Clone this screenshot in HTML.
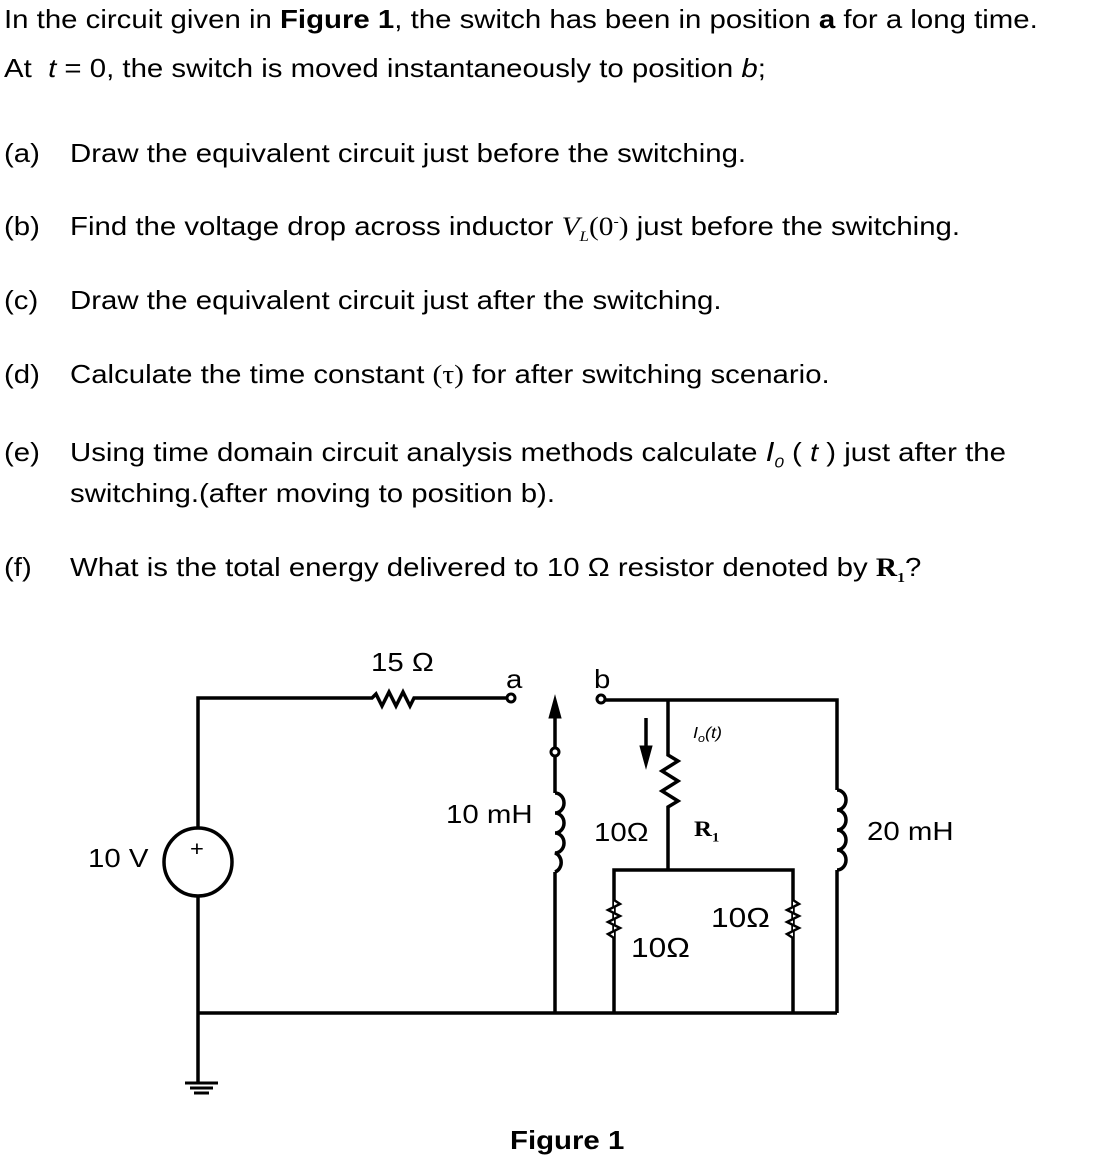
<!DOCTYPE html>
<html><head><style>
body{margin:0;width:1111px;height:1161px;background:#fff;position:relative;font-family:"Liberation Sans",sans-serif;color:#000;overflow:hidden;}
.t{position:absolute;font-size:26px;white-space:nowrap;line-height:28px;transform:scaleX(1.13);transform-origin:0 0;}
.s{font-family:"Liberation Serif",serif;font-style:italic;}
sub,sup{line-height:0;}
</style></head><body>
<div class="t" style="left:4px;top:5px">In the circuit given in <b>Figure 1</b>, the switch has been in position <b>a</b> for a long time.</div>
<div class="t" style="left:4px;top:54px">At &nbsp;<i>t</i> = 0, the switch is moved instantaneously to position <i>b</i>;</div>
<div class="t" style="left:4px;top:139px">(a)</div><div class="t" style="left:70px;top:139px">Draw the equivalent circuit just before the switching.</div>
<div class="t" style="left:4px;top:212px">(b)</div><div class="t" style="left:70px;top:212px">Find the voltage drop across inductor <span class="s">V<sub style="font-size:15px">L</sub></span><span style="font-family:'Liberation Serif',serif">(0<sup style="font-size:14px">-</sup>)</span> just before the switching.</div>
<div class="t" style="left:4px;top:286px">(c)</div><div class="t" style="left:70px;top:286px">Draw the equivalent circuit just after the switching.</div>
<div class="t" style="left:4px;top:360px">(d)</div><div class="t" style="left:70px;top:360px">Calculate the time constant <span style="font-family:'Liberation Serif',serif">(τ)</span> for after switching scenario.</div>
<div class="t" style="left:4px;top:438px">(e)</div><div class="t" style="left:70px;top:438px">Using time domain circuit analysis methods calculate <i style="font-size:28px">I<sub style="font-size:15px">0</sub></i> ( <i>t</i> ) just after the</div>
<div class="t" style="left:70px;top:479px">switching.(after moving to position b).</div>
<div class="t" style="left:4px;top:553px">(f)</div><div class="t" style="left:70px;top:553px">What is the total energy delivered to 10 Ω resistor denoted by <b style="font-family:'Liberation Serif',serif">R<sub style="font-size:14px">1</sub></b>?</div>
<svg width="1111" height="1161" style="position:absolute;left:0;top:0" fill="none" stroke="#000" stroke-width="3.5">
<path d="M198 1083 V896 M198 828 V698 H372 l4 -4 l6 12 l7 -14 l7 14 l7 -14 l7 14 l4 -8 H507"/>
<circle cx="198" cy="862" r="34"/>
<circle cx="511" cy="698" r="4" stroke-width="3"/>
<path d="M185 1083 H218 M190 1088 H213 M194 1093 H209" stroke-width="3"/>
<path d="M198 1013 H837"/>
<path d="M555 718 V748 M555 756 V793 M555 872 V1013"/>
<circle cx="555" cy="752" r="4" stroke-width="3"/>
<path d="M549 718 L555 696 L561 718 Z" fill="#000" stroke-width="1"/>
<path d="M555 793 a9 10 0 0 1 0 20 a9 10 0 0 1 0 20 a9 10 0 0 1 0 20 a9 10 0 0 1 0 19" />
<circle cx="601" cy="699" r="4" stroke-width="3"/>
<path d="M605 700 H837 V790 M837 870 V1013"/>
<path d="M837 790 a9 10 0 0 1 0 20 a9 10 0 0 1 0 20 a9 10 0 0 1 0 20 a9 10 0 0 1 0 20"/>
<path d="M668 700 V755 l10 6 l-16 10 l16 10 l-16 10 l16 10 l-10 6 V870"/>
<path d="M646 718 V748"/>
<path d="M640 746 L646 768 L652 746 Z" fill="#000" stroke-width="1"/>
<path d="M614 1013 V870 H793 V1013" />
<path d="M614 900 l6 4 l-12 6 l12 6 l-12 6 l12 6 l-12 6 l6 4" stroke-width="2.5" fill="#fff"/>
<path d="M793 900 l6 4 l-12 6 l12 6 l-12 6 l12 6 l-12 6 l6 4" stroke-width="2.5" fill="#fff"/>
</svg>
<div class="t" style="left:371px;top:648px">15 Ω</div>
<div class="t" style="left:506px;top:665px">a</div>
<div class="t" style="left:594px;top:665px">b</div>
<div class="t" style="left:88px;top:844px">10 V</div>
<div class="t" style="left:190px;top:836px;font-size:21px">+</div>
<div class="t" style="left:446px;top:800px">10 mH</div>
<div class="t" style="left:594px;top:818px">10Ω</div>
<div class="t" style="left:693px;top:720px;font-size:16px;font-style:italic">I<sub style="font-size:11px">o</sub>(t)</div>
<div class="t" style="left:694px;top:815px;font-family:'Liberation Serif',serif;font-weight:bold;font-size:22px">R<sub style="font-size:13px">1</sub></div>
<div class="t" style="left:867px;top:817px">20 mH</div>
<div class="t" style="left:711px;top:904px;font-size:28px">10Ω</div>
<div class="t" style="left:631px;top:934px;font-size:28px">10Ω</div>
<div class="t" style="left:510px;top:1126px;font-weight:bold">Figure 1</div>
</body></html>
